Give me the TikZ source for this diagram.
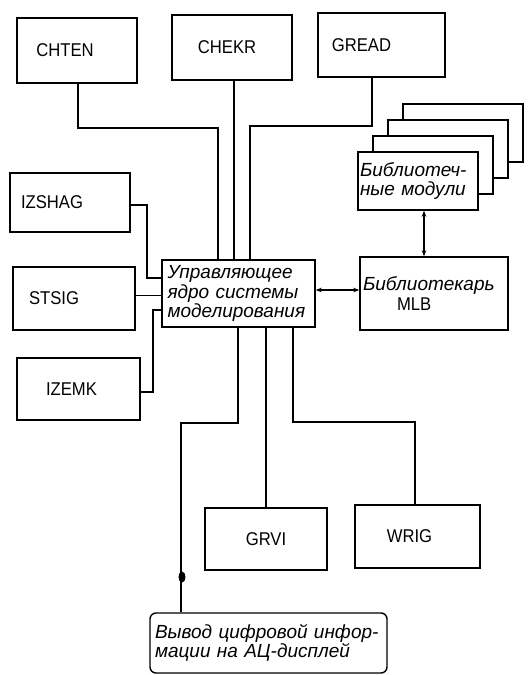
\documentclass[tikz,border=0pt]{standalone}
\usepackage{fontspec}
\setmainfont{Liberation Sans}
\newfontfamily\narrowsans{Liberation Sans}[FakeStretch=0.9]
\usetikzlibrary{arrows.meta,shapes.geometric}
\newcommand\txsh[1]{\hspace*{#1pt}}
\begin{document}
\begin{tikzpicture}[x=1pt,y=-1pt,
  box/.style={draw, line width=1.4pt, inner sep=0pt, fill=white,
    font=\narrowsans\fontsize{18.5}{19}\selectfont},
  tbox/.style={box, align=left, font=\fontsize{19}{19.5}\selectfont\itshape},
  wire/.style={line width=1.2pt},
  biarr/.style={line width=1.2pt, {Stealth[length=6pt,width=4.5pt]}-{Stealth[length=6pt,width=4.5pt]}}]
\useasboundingbox (0,0) rectangle (529,675);
% top row
\node[box, minimum width=120pt, minimum height=65pt] (chten) at (77,50.5) {\txsh{-24}CHTEN};
\node[box, minimum width=120pt, minimum height=65pt] (chekr) at (232,47.5) {\txsh{-10}CHEKR};
\node[box, minimum width=127pt, minimum height=64pt] (gread) at (381.5,45) {\txsh{-40}GREAD};
% left column
\node[box, minimum width=120pt, minimum height=59pt] (izshag) at (70,202.5) {\txsh{-36}IZSHAG};
\node[box, minimum width=122pt, minimum height=63pt] (stsig) at (74,298.5) {\txsh{-40}STSIG};
\node[box, minimum width=123pt, minimum height=62pt] (izemk) at (78.5,389) {\txsh{-14}IZEMK};
% core
\node[tbox, text width=142pt, inner xsep=5.5pt, minimum height=67pt] (core) at (238.5,293.5)
  {Управляющее\\ядро системы\\моделирования};
% library modules stack
\node[box, minimum width=120pt, minimum height=58pt] (lm4) at (463,133) {};
\node[box, minimum width=120pt, minimum height=58pt] (lm3) at (448,149) {};
\node[box, minimum width=120pt, minimum height=58pt] (lm2) at (433,165) {};
\node[tbox, text width=116pt, inner xsep=2pt, minimum height=58pt] (lm1) at (418,181)
  {Библиотеч-\\ные модули};
% librarian
\node[tbox, text width=142pt, inner xsep=3pt, minimum height=73pt] (lib) at (434,293.5)
  {Библиотекарь\\\narrowsans\upshape\fontsize{18.5}{19}\selectfont\hspace*{34pt}MLB};
% bottom
\node[box, minimum width=122pt, minimum height=62pt] (grvi) at (266,539) {GRVI};
\node[box, minimum width=125pt, minimum height=63pt] (wrig) at (417.5,536.5) {\txsh{-16}WRIG};
\node[tbox, rounded corners=6pt, text width=227pt, inner xsep=5pt, minimum height=60pt] (out) at (268.5,643)
  {Вывод цифровой инфор-\\мации на АЦ-дисплей};
% connectors top
\coordinate (c1) at (218,128);
\draw[wire] ([xshift=1pt]chten.south) |- (c1) -- (c1 |- core.north);
\coordinate (c2) at (234,80);
\draw[wire] (c2) -- (c2 |- core.north);
\coordinate (c3) at (250,126);
\draw[wire] ([xshift=-9.5pt]gread.south) |- (c3) -- (c3 |- core.north);
% connectors left
\coordinate (c4) at (147,278);
\draw[wire] ([yshift=-2.5pt]izshag.east) -| (c4) -- (c4 -| core.west);
\draw[wire] ([yshift=3pt]stsig.east) -- ([yshift=3pt]stsig.east -| core.west);
\coordinate (c5) at (153,310);
\draw[wire] ([yshift=-3pt]izemk.east) -| (c5) -- (c5 -| core.west);
% connectors bottom
\coordinate (c6) at (238,423);
\coordinate (c7) at (181,423);
\draw[wire] (c6 |- core.south) -- (c6) -- (c7) -- (c7 |- out.north);
\node[ellipse, fill, inner sep=0pt, minimum width=7pt, minimum height=11pt] (dot) at (182,577) {};
\draw[wire] (grvi.north) -- (grvi.north |- core.south);
\coordinate (c9) at (293,422);
\coordinate (c10) at (415,422);
\draw[wire] (c9 |- core.south) -- (c9) -- (c10) -- (c10 |- wrig.north);
% arrows
\draw[biarr] ([yshift=3.5pt]core.east) -- ([yshift=3.5pt]lib.west);
\coordinate (c11) at (424,0);
\draw[biarr] (c11 |- lm1.south) -- (c11 |- lib.north);
\end{tikzpicture}
\end{document}
